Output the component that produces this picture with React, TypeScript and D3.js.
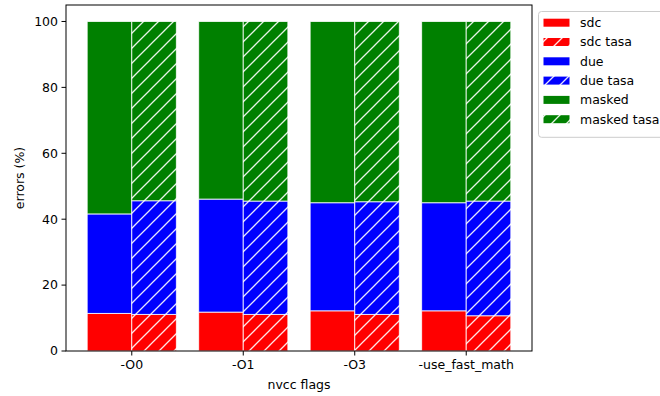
import React from 'react';
import * as d3 from 'd3';

// values (percent)
const categories = ['-O0', '-O1', '-O3', '-use_fast_math'];
const sdc = [11.4, 11.8, 12.2, 12.2];
const due = [30.2, 34.3, 32.8, 32.8];
const masked = [58.4, 53.9, 55.0, 55.0];
const sdcTasa = [11.1, 11.1, 11.1, 10.7];
const dueTasa = [34.5, 34.4, 34.2, 34.8];
const maskedTasa = [54.4, 54.5, 54.7, 54.5];
const yTicks = [0, 20, 40, 60, 80, 100];

const legendItems = [
  { label: 'sdc', color: '#ff0000', hatch: false },
  { label: 'sdc tasa', color: '#ff0000', hatch: true },
  { label: 'due', color: '#0000ff', hatch: false },
  { label: 'due tasa', color: '#0000ff', hatch: true },
  { label: 'masked', color: '#008000', hatch: false },
  { label: 'masked tasa', color: '#008000', hatch: true },
];

const W = 660;
const H = 396;
const M = { left: 66, right: 532, top: 5, bottom: 351 };
const FONT = 'DejaVu Sans, sans-serif';
const FS = 12.5;
const BAR_W = 0.4;

type Seg = { x: number; y0: number; y1: number; color: string; hatch: boolean };

const App: React.FC = () => {
  const x = d3.scaleLinear().domain([-0.59, 3.59]).range([M.left, M.right]);
  const y = d3.scaleLinear().domain([0, 105]).range([M.bottom, M.top]);

  const segs: Seg[] = [];
  categories.forEach((_, i) => {
    const plain = [
      { v: sdc[i], c: '#ff0000' },
      { v: due[i], c: '#0000ff' },
      { v: masked[i], c: '#008000' },
    ];
    const tasa = [
      { v: sdcTasa[i], c: '#ff0000' },
      { v: dueTasa[i], c: '#0000ff' },
      { v: maskedTasa[i], c: '#008000' },
    ];
    let acc = 0;
    plain.forEach(p => {
      segs.push({ x: i - BAR_W, y0: acc, y1: acc + p.v, color: p.c, hatch: false });
      acc += p.v;
    });
    acc = 0;
    tasa.forEach(p => {
      segs.push({ x: i, y0: acc, y1: acc + p.v, color: p.c, hatch: true });
      acc += p.v;
    });
  });

  const hatchId = (c: string) => `hatch${c.replace('#', '')}`;
  const colors = ['#ff0000', '#0000ff', '#008000'];

  const legX = 538.5;
  const legY = 11.5;
  const rowH = 19.3;

  return (
    <svg width={W} height={H} style={{ position: 'absolute', left: 0, top: 0 }} fontFamily={FONT}>
      <defs>
        {colors.map(c => (
          <pattern key={c} id={hatchId(c)} patternUnits="userSpaceOnUse" width={15} height={15}>
            <rect width={15} height={15} fill={c} />
            <path d="M0,15 L15,0 M-3,3 L3,-3 M12,18 L18,12" stroke="#ffffff" strokeWidth={1.3} opacity={0.9} />
          </pattern>
        ))}
      </defs>
      <rect width={W} height={H} fill="#fff" />

      {segs.map((s, k) => (
        <rect
          key={k}
          x={x(s.x)}
          y={y(s.y1)}
          width={x(s.x + BAR_W) - x(s.x)}
          height={y(s.y0) - y(s.y1)}
          fill={s.hatch ? `url(#${hatchId(s.color)})` : s.color}
          stroke="#ffffff"
          strokeOpacity={0.8}
          strokeWidth={1}
        />
      ))}

      {/* axes frame */}
      <rect x={M.left} y={M.top} width={M.right - M.left} height={M.bottom - M.top} fill="none" stroke="#000" strokeWidth={1} />

      {yTicks.map(t => (
        <g key={t}>
          <line x1={M.left - 4.5} x2={M.left} y1={y(t)} y2={y(t)} stroke="#000" />
          <text x={M.left - 8} y={y(t)} dy="0.35em" textAnchor="end" fontSize={FS} fill="#000">{t}</text>
        </g>
      ))}
      {categories.map((c, i) => (
        <g key={c}>
          <line x1={x(i)} x2={x(i)} y1={M.bottom} y2={M.bottom + 4.5} stroke="#000" />
          <text x={x(i)} y={M.bottom + 18} textAnchor="middle" fontSize={FS} fill="#000">{c}</text>
        </g>
      ))}

      <text x={(M.left + M.right) / 2} y={389} textAnchor="middle" fontSize={FS} fill="#000">nvcc flags</text>
      <text transform={`translate(24,${(M.top + M.bottom) / 2}) rotate(-90)`} textAnchor="middle" fontSize={FS} fill="#000">errors (%)</text>

      {/* legend */}
      <rect x={legX} y={legY} width={140} height={rowH * 6 + 10} rx={3} fill="#fff" fillOpacity={0.8} stroke="#cccccc" />
      {legendItems.map((d, i) => {
        const cy = legY + 11.2 + i * rowH;
        return (
          <g key={d.label}>
            <rect
              x={legX + 5}
              y={cy - 4}
              width={26}
              height={8}
              fill={d.hatch ? `url(#${hatchId(d.color)})` : d.color}
            />
            <text x={legX + 41.5} y={cy} dy="0.35em" fontSize={FS} fill="#000">{d.label}</text>
          </g>
        );
      })}
    </svg>
  );
};

export default App;
